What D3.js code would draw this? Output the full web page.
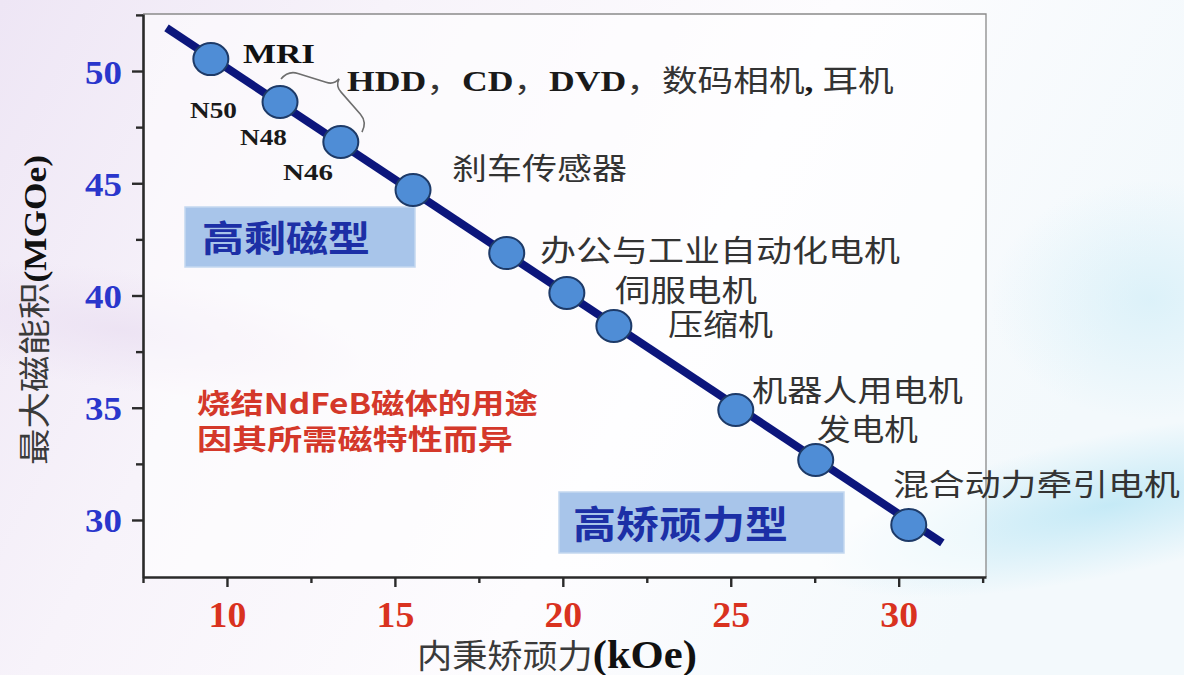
<!DOCTYPE html>
<html><head><meta charset="utf-8">
<script src="https://cdn.jsdelivr.net/npm/d3@7"></script>
<style>body{margin:0;background:#fff}svg{display:block}</style>
</head><body>
<svg id="chart" width="1184" height="675"></svg>
<script>
// ---------- data ----------
const coercivity    = [9.52, 11.58, 13.39, 15.54, 18.33, 20.12, 21.52, 25.15, 27.53, 30.30]; // kOe
const energyProduct = [50.53, 48.62, 46.84, 44.70, 41.89, 40.11, 38.64, 34.90, 32.67, 29.78]; // MGOe
const pointLabels   = ["N50","N48","N46","刹车传感器","办公与工业自动化电机","伺服电机","压缩机","机器人用电机","发电机","混合动力牵引电机"];
const trendX = [8.2, 31.3];
const trendY = [51.92, 28.98];
const xTicks = [10, 15, 20, 25, 30];
const yTicks = [30, 35, 40, 45, 50];
const xMinor = [7.5, 12.5, 17.5, 22.5, 27.5, 32.5];
const yMinor = [32.5, 37.5, 42.5, 47.5, 52.5];
const xTitleCN = "内秉矫顽力", xTitleUnit = "(kOe)";
const yTitleCN = "最大磁能积", yTitleUnit = "(MGOe)";
const groupTop = "MRI";
const groupMid = "HDD，CD，DVD，数码相机, 耳机";
const typeA = "高剩磁型", typeB = "高矫顽力型";
const noteLines = ["烧结NdFeB磁体的用途", "因其所需磁特性而异"];
// brace annotation ends (data coords)
const braceX = [11.61, 14.02], braceY = [49.64, 47.28];

// ---------- layout ----------
const svg = d3.select("#chart");
const W = 1184, H = 675;
const x = d3.scaleLinear().domain([7.5, 32.6]).range([143, 986]);
const y = d3.scaleLinear().domain([27.46, 52.54]).range([577, 14]);
const SERIF = "'Liberation Serif','Times New Roman',serif";
const CJK = "'Noto Sans CJK SC','Noto Sans',sans-serif";

// background
const defs = svg.append("defs");
const lg = defs.append("linearGradient").attr("id","bg").attr("x1",0).attr("y1",0).attr("x2",1).attr("y2",0.3);
[["0","#eee6f5"],["0.3","#f7f3fa"],["0.65","#fdfcfe"],["1","#f3f9fc"]].forEach(s=>lg.append("stop").attr("offset",s[0]).attr("stop-color",s[1]));
const rg = defs.append("radialGradient").attr("id","cy");
rg.append("stop").attr("offset","0").attr("stop-color","#c3e9f6").attr("stop-opacity",0.95);
rg.append("stop").attr("offset","1").attr("stop-color","#c3e9f6").attr("stop-opacity",0);
const rg2 = defs.append("radialGradient").attr("id","pk");
rg2.append("stop").attr("offset","0").attr("stop-color","#ece2f3").attr("stop-opacity",0.9);
rg2.append("stop").attr("offset","1").attr("stop-color","#ece2f3").attr("stop-opacity",0);
svg.append("rect").attr("width",W).attr("height",H).attr("fill","url(#bg)");
svg.append("ellipse").attr("cx",1110).attr("cy",505).attr("rx",300).attr("ry",70).attr("transform","rotate(-12,1110,505)").attr("fill","url(#cy)");
svg.append("ellipse").attr("cx",1150).attr("cy",300).attr("rx",160).attr("ry",120).attr("fill","url(#cy)").attr("opacity",0.5);
svg.append("ellipse").attr("cx",120).attr("cy",330).attr("rx",260).attr("ry",60).attr("transform","rotate(8,120,330)").attr("fill","url(#pk)");

// plot area wash
svg.append("rect").attr("x",x.range()[0]).attr("y",y.range()[1])
  .attr("width",x.range()[1]-x.range()[0]).attr("height",y.range()[0]-y.range()[1])
  .attr("fill","#ffffff").attr("opacity",0.55);

// frame (top & right)
svg.append("path")
  .attr("d",`M${x.range()[0]},${y.range()[1]}H${x.range()[1]}V${y.range()[0]}`)
  .attr("fill","none").attr("stroke","#8a8a8a").attr("stroke-width",1.3);

// axes
const axisColor = "#2a2a2a";
const gx = svg.append("g").attr("transform",`translate(0,${y.range()[0]})`)
  .call(d3.axisBottom(x).tickValues(xTicks).tickSize(10).tickSizeOuter(0).tickFormat(d3.format("d")));
const gxm = svg.append("g").attr("transform",`translate(0,${y.range()[0]})`)
  .call(d3.axisBottom(x).tickValues(xMinor).tickSize(6).tickSizeOuter(0).tickFormat(""));
const gy = svg.append("g").attr("transform",`translate(${x.range()[0]},0)`)
  .call(d3.axisLeft(y).tickValues(yTicks).tickSize(11).tickSizeOuter(0).tickFormat(d3.format("d")));
const gym = svg.append("g").attr("transform",`translate(${x.range()[0]},0)`)
  .call(d3.axisLeft(y).tickValues(yMinor).tickSize(7).tickSizeOuter(0).tickFormat(""));
[gx,gxm,gy,gym].forEach(g=>{
  g.select(".domain").attr("stroke",axisColor).attr("stroke-width",2.6);
  g.selectAll(".tick line").attr("stroke",axisColor).attr("stroke-width",2.4);
});
gxm.select(".domain").remove(); gym.select(".domain").remove();
gx.selectAll(".tick text")
  .attr("y",0).attr("dy",null).attr("x",0)
  .attr("transform","translate(0,50) scale(1.05,1)")
  .attr("font-family",SERIF).attr("font-weight","bold").attr("font-size",36)
  .attr("fill","#d9321f").attr("text-anchor","middle");
gy.selectAll(".tick text")
  .attr("x",0).attr("dy",null).attr("y",0)
  .attr("transform","translate(-21,12) scale(1.12,1)")
  .attr("font-family",SERIF).attr("font-weight","bold").attr("font-size",33)
  .attr("fill","#2a36cc").attr("text-anchor","end");

// helper: text stretched horizontally to a target width
function fitText(parent, px, py, targetW, build, anchor){
  const t = parent.append("text").attr("x",0).attr("y",0).attr("text-anchor",anchor||"start");
  build(t);
  const w = t.node().getBBox().width;
  t.attr("transform",`translate(${px},${py}) scale(${targetW/w},1)`);
  return t;
}

// type boxes
const boxes = [
  {text:typeA, x0:185, y0:207, x1:415, y1:267, tx:202, tw:168, ty:252, fs:36},
  {text:typeB, x0:559, y0:492, x1:844, y1:553, tx:573, tw:215, ty:538, fs:38}
];
boxes.forEach(b=>{
  svg.append("rect").attr("x",b.x0).attr("y",b.y0).attr("width",b.x1-b.x0).attr("height",b.y1-b.y0)
    .attr("fill","#a8c5ea").attr("stroke","#c4d7ef").attr("stroke-width",1.5);
  fitText(svg, b.tx, b.ty, b.tw, t=>t.text(b.text).attr("font-family",CJK).attr("font-weight",700)
    .attr("font-size",b.fs).attr("fill","#1c2fa6"));
});

// trend line
const line = d3.line().x(d=>x(d[0])).y(d=>y(d[1]));
svg.append("path").datum(d3.zip(trendX,trendY)).attr("d",line)
  .attr("fill","none").attr("stroke","#0c167c").attr("stroke-width",8);

// points
svg.append("g").selectAll("ellipse").data(d3.zip(coercivity,energyProduct)).join("ellipse")
  .attr("cx",d=>x(d[0])).attr("cy",d=>y(d[1])).attr("rx",17.5).attr("ry",16)
  .attr("fill","#4f8dd6").attr("stroke","#1d3a68").attr("stroke-width",2);

// brace
{
  const p0=[x(braceX[0]),y(braceY[0])], p1=[x(braceX[1]),y(braceY[1])];
  const L = Math.hypot(p1[0]-p0[0],p1[1]-p0[1]);
  const ang = Math.atan2(p1[1]-p0[1],p1[0]-p0[0])*180/Math.PI;
  const m = L/2;
  const d = `M0,0 Q1,-11 11,-14 L${m-9},-22 Q${m-1},-24 ${m},-32 Q${m+1},-24 ${m+9},-22 L${L-11},-14 Q${L-1},-11 ${L},0`;
  svg.append("path").attr("d",d).attr("transform",`translate(${p0[0]},${p0[1]}) rotate(${ang})`)
    .attr("fill","none").attr("stroke","#6e6e6e").attr("stroke-width",1.6);
}

// point labels
const labelLayout = [
  {x:190, y:118, w:47, fs:24, serif:true},
  {x:240, y:145, w:47, fs:24, serif:true},
  {x:283, y:180, w:50, fs:24, serif:true},
  {x:452, y:179, w:175, fs:30},
  {x:540, y:261, w:360, fs:30},
  {x:615, y:301, w:142, fs:30},
  {x:668, y:335, w:105, fs:30},
  {x:752, y:401, w:211, fs:30},
  {x:817, y:440, w:101, fs:30},
  {x:893, y:495, w:287, fs:30}
];
pointLabels.forEach((s,i)=>{
  const L = labelLayout[i];
  fitText(svg, L.x, L.y, L.w, t=>{
    t.text(s).attr("font-size",L.fs);
    if(L.serif) t.attr("font-family",SERIF).attr("font-weight","bold").attr("fill","#1a1a1a");
    else t.attr("font-family",CJK).attr("fill","#333333");
  });
});

// group labels
fitText(svg, 243, 63, 72, t=>t.text(groupTop).attr("font-family",SERIF).attr("font-weight","bold").attr("font-size",28).attr("fill","#111"));
fitText(svg, 347, 91, 547, t=>{
  t.attr("font-size",30).attr("fill","#1a1a1a");
  const parts = [["HDD","s"],["，","c"],["CD","s"],["，","c"],["DVD","s"],["，","c"],["数码相机","c"],[", ","s"],["耳机","c"]];
  parts.forEach(p=>{
    const ts=t.append("tspan").text(p[0]);
    if(p[1]==="s") ts.attr("font-family",SERIF).attr("font-weight","bold");
    else ts.attr("font-family",CJK).attr("fill","#333");
  });
});

// red note
noteLines.forEach((s,i)=>{
  fitText(svg, 197, 414+i*36, i===0?341:316, t=>t.text(s).attr("font-family",CJK).attr("font-weight",700)
    .attr("font-size",28).attr("fill","#d4382a"));
});

// axis titles
fitText(svg, 417, 668, 280, t=>{
  t.append("tspan").text(xTitleCN).attr("font-family",CJK).attr("font-size",33).attr("fill","#3a3a3a");
  t.append("tspan").text(xTitleUnit).attr("font-family",SERIF).attr("font-weight","bold").attr("font-size",40).attr("fill","#111");
});
{
  const t = svg.append("text").attr("text-anchor","middle");
  t.append("tspan").text(yTitleCN).attr("font-family",CJK).attr("font-size",32).attr("fill","#3a3a3a");
  t.append("tspan").text(yTitleUnit).attr("font-family",SERIF).attr("font-weight","bold").attr("font-size",31).attr("fill","#111");
  const w = t.node().getBBox().width;
  t.attr("transform",`translate(46,310) rotate(-90) scale(${310/w},1)`);
}
</script>
</body></html>
